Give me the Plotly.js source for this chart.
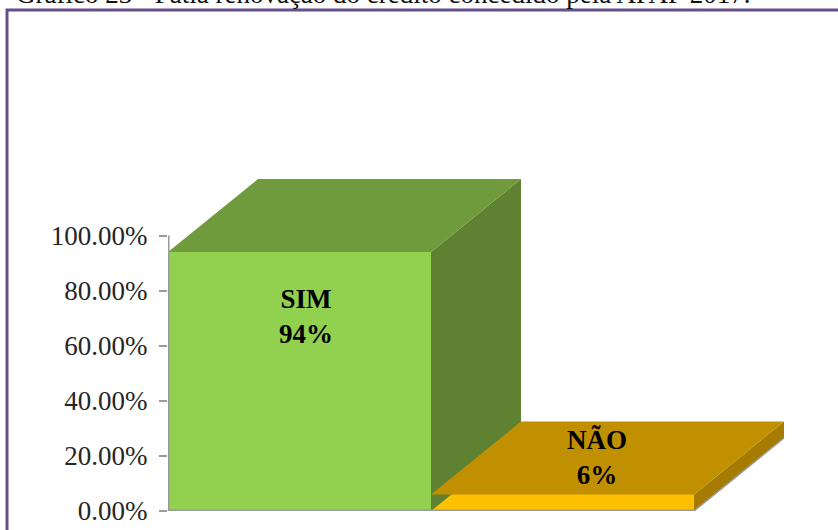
<!DOCTYPE html>
<html><head><meta charset="utf-8">
<script src="https://cdn.plot.ly/plotly-3.0.1.min.js"></script>
<style>html,body{margin:0;padding:0;background:#fff;overflow:hidden}#c{width:838px;height:530px}</style>
</head><body><div id="c"></div>
<script>
const categories = ['SIM', 'NÃO'];
const shareValues = [94, 6];
const valueLabels = ['94%', '6%'];
const frontColors = ['#92D050', '#FFC000'];
const topColors = ['#6F9B3C', '#C09000'];
const sideColors = ['#5E8232', '#A67C00'];
const yTicks = [0, 20, 40, 60, 80, 100];
const yTickLabels = ['0.00%', '20.00%', '40.00%', '60.00%', '80.00%', '100.00%'];
const chartTitle = 'Gráfico 23 - Fatia renovação do crédito concedido pela APAF 2017.';

const pxPerX = 263, pxPerY = 2.755;
const depthX = 90 / pxPerX, depthY = 73 / pxPerY;
const L = 168, R = 800, T = 170, B = 511;
const W = R - L, H = B - T;
const px = p => (p - L) / W, py = p => (B - p) / H;
const axisGrey = '#9A9A9A';
const traces = [];
const poly = (x, y, color) => ({type:'scatter', mode:'lines', fill:'toself', fillcolor:color, line:{width:0}, hoverinfo:'skip', showlegend:false, x, y});
const rule = (x, y, w) => ({type:'scatter', mode:'lines', line:{color:axisGrey, width:w}, hoverinfo:'skip', showlegend:false, cliponaxis:false, x, y});
categories.forEach((c, i) => {
  const v = shareValues[i], x0 = i - 0.5, x1 = i + 0.5;
  traces.push(poly([x1, x1+depthX, x1+depthX, x1, x1], [0, depthY, v+depthY, v, 0], sideColors[i]));
  traces.push(poly([x0, x1, x1+depthX, x0+depthX, x0], [v, v, v+depthY, v+depthY, v], topColors[i]));
});
traces.push({type:'bar', x:[0,1], y:shareValues, width:1, marker:{color:frontColors, line:{width:0}}, showlegend:false, hoverinfo:'skip'});
traces.push(rule([1.5, 1.5+depthX], [0, depthY], 1.5));
traces.push(rule([-0.5, 1.5], [0, 0], 3));
traces.push(rule([-0.5, -0.5], [0, 100], 3));

const labelFont = {family:'Liberation Serif', size:27, color:'#000'};
const annotations = [
  {xref:'x', yref:'y', x:0.025, y:70.6, text:'<b>'+categories[0]+'</b><br><b>'+valueLabels[0]+'</b>', showarrow:false, font:labelFont},
  {xref:'x', yref:'y', x:1.131, y:19.6, text:'<b>'+categories[1]+'</b><br><b>'+valueLabels[1]+'</b>', showarrow:false, font:labelFont},
  {xref:'paper', yref:'paper', xanchor:'left', yanchor:'bottom', x:px(14), y:py(11), text:chartTitle, showarrow:false, font:{family:'Liberation Serif', size:27, color:'#111'}}
];

const layout = {
  width:838, height:530, margin:{l:L, r:838-R, t:T, b:530-B, pad:0},
  paper_bgcolor:'#fff', plot_bgcolor:'rgba(0,0,0,0)', showlegend:false, bargap:0,
  xaxis:{range:[-0.5, -0.5 + W/pxPerX], showgrid:false, zeroline:false, showticklabels:false, ticks:'', showline:false, fixedrange:true},
  yaxis:{range:[0, H/pxPerY], tickvals:yTicks, ticktext:yTickLabels, showgrid:false, zeroline:false, showline:false, ticks:'outside', ticklen:8, tickwidth:2, tickcolor:axisGrey, ticklabelstandoff:6, tickfont:{family:'Liberation Serif', size:27, color:'#262626'}, fixedrange:true},
  annotations,
  shapes:[{type:'rect', xref:'paper', yref:'paper', x0:px(7), x1:px(860), y0:py(560), y1:py(10), line:{color:'#65508A', width:3}, fillcolor:'rgba(0,0,0,0)', layer:'below'}]
};
Plotly.newPlot('c', traces, layout, {displayModeBar:false, responsive:false});
</script></body></html>
